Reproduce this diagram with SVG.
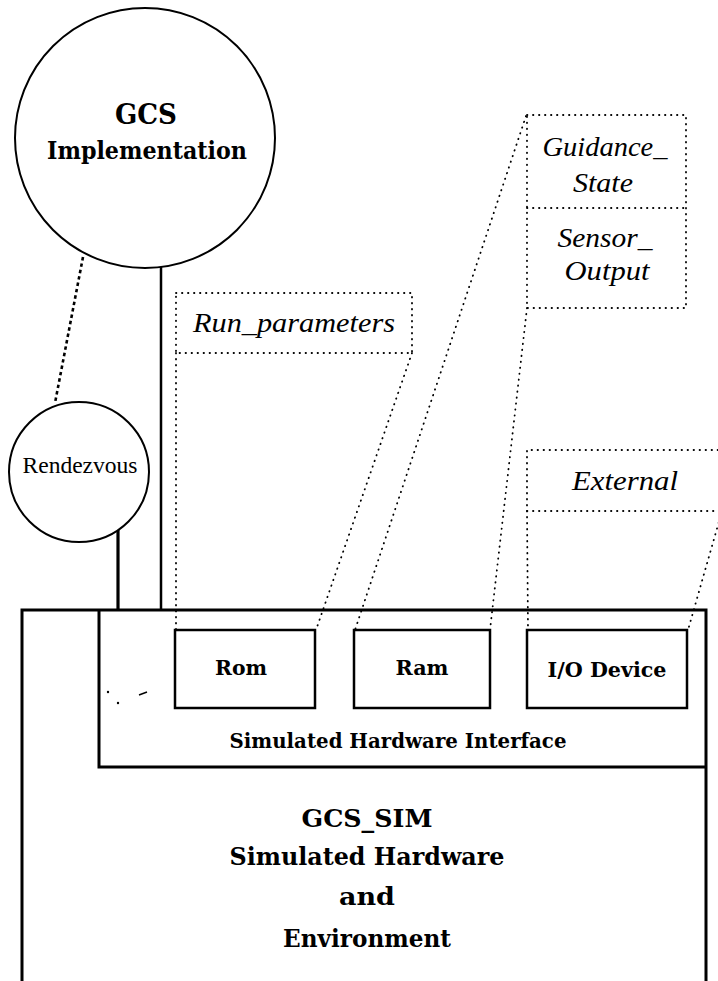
<svg xmlns="http://www.w3.org/2000/svg" width="718" height="981" viewBox="0 0 718 981">
<style>
.solid{fill:none;stroke:#000;stroke-width:2.5}
.circ{fill:#fff;stroke:#000;stroke-width:2}
.dot{fill:none;stroke:#000;stroke-width:1.8;stroke-dasharray:0.4 5.6;stroke-linecap:round}
.dash{fill:none;stroke:#000;stroke-width:2.6;stroke-dasharray:3.5 3}
.b{font-family:"DejaVu Serif","Liberation Serif",serif;font-weight:bold;text-anchor:middle;fill:#000}
.r{font-family:"Liberation Serif",serif;text-anchor:middle;fill:#000}
.i{font-family:"Liberation Serif",serif;font-style:italic;text-anchor:middle;fill:#000}
</style>
<rect width="718" height="981" fill="#fff"/>
<g id="connectors">
<line class="dash" x1="83" y1="257" x2="55" y2="403"/>
<line class="solid" x1="161" y1="267" x2="161" y2="611"/>
<line class="solid" x1="118" y1="530" x2="118" y2="611" style="stroke-width:3.2"/>
<line class="dot" x1="176" y1="353" x2="176" y2="630"/>
<line class="dot" x1="412" y1="353" x2="316" y2="630"/>
<line class="dot" x1="526" y1="116" x2="355" y2="630"/>
<line class="dot" x1="527" y1="308" x2="490" y2="630"/>
<line class="dot" x1="527" y1="511" x2="528" y2="630"/>
<line class="dot" x1="722" y1="511" x2="688" y2="630"/>
</g>
<g id="gcs-implementation">
<circle class="circ" cx="145" cy="138" r="130"/>
<text class="b" x="146" y="124" font-size="27" textLength="62" lengthAdjust="spacingAndGlyphs">GCS</text>
<text class="b" x="147" y="159" font-size="25" textLength="200" lengthAdjust="spacingAndGlyphs">Implementation</text>
</g>
<g id="rendezvous">
<circle class="circ" cx="79" cy="472" r="70"/>
<text class="r" x="80" y="473" font-size="24" textLength="115" lengthAdjust="spacingAndGlyphs">Rendezvous</text>
</g>
<g id="run-parameters">
<rect class="dot" x="176" y="293" width="236" height="60"/>
<text class="i" x="294" y="332" font-size="27" textLength="202" lengthAdjust="spacingAndGlyphs">Run_parameters</text>
</g>
<g id="guidance-sensor">
<rect class="dot" x="527" y="115" width="159" height="193"/>
<line class="dot" x1="527" y1="208" x2="686" y2="208"/>
<text class="i" x="605" y="156" font-size="27" textLength="125" lengthAdjust="spacingAndGlyphs">Guidance_</text>
<text class="i" x="603" y="192" font-size="27" textLength="60" lengthAdjust="spacingAndGlyphs">State</text>
<text class="i" x="605" y="247" font-size="27" textLength="95" lengthAdjust="spacingAndGlyphs">Sensor_</text>
<text class="i" x="607" y="280" font-size="27" textLength="85" lengthAdjust="spacingAndGlyphs">Output</text>
</g>
<g id="external">
<polyline class="dot" points="718,450 527,450 527,511 718,511"/>
<text class="i" x="625" y="490" font-size="27" textLength="106" lengthAdjust="spacingAndGlyphs">External</text>
</g>
<g id="gcs-sim">
<path class="solid" d="M22,981 V610 H706 V981" style="stroke-width:3"/>
<text class="b" x="367" y="827" font-size="25" textLength="131" lengthAdjust="spacingAndGlyphs">GCS_SIM</text>
<text class="b" x="367" y="865" font-size="25" textLength="275" lengthAdjust="spacingAndGlyphs">Simulated Hardware</text>
<text class="b" x="367" y="905" font-size="25" textLength="56" lengthAdjust="spacingAndGlyphs">and</text>
<text class="b" x="367" y="947" font-size="25" textLength="168" lengthAdjust="spacingAndGlyphs">Environment</text>
</g>
<g id="hardware-interface">
<path class="solid" d="M99,610 V767 H706" style="stroke-width:3"/>
<text class="b" x="398" y="748" font-size="19.5" textLength="337" lengthAdjust="spacingAndGlyphs">Simulated Hardware Interface</text>
</g>
<g id="rom">
<rect class="solid" x="175" y="630" width="140" height="78"/>
<text class="b" x="241" y="675" font-size="20" textLength="52" lengthAdjust="spacingAndGlyphs">Rom</text>
</g>
<g id="ram">
<rect class="solid" x="354" y="630" width="136" height="78"/>
<text class="b" x="422" y="675" font-size="20" textLength="53" lengthAdjust="spacingAndGlyphs">Ram</text>
</g>
<g id="io-device">
<rect class="solid" x="527" y="630" width="160" height="78"/>
<text class="b" x="607" y="677" font-size="20" textLength="119" lengthAdjust="spacingAndGlyphs">I/O Device</text>
</g>
<g id="marks">
<circle cx="108" cy="692" r="1.2"/>
<circle cx="118" cy="703" r="1.2"/>
<path d="M139,695 L147,692" stroke="#000" stroke-width="1.5"/>
</g>
</svg>
